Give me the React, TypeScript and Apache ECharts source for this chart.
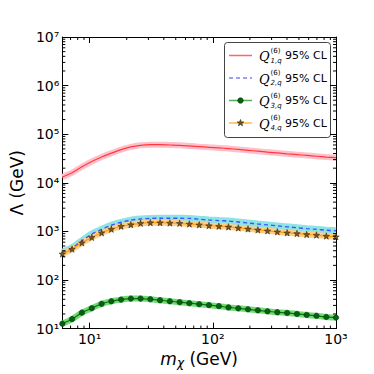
import React, { useEffect, useRef } from "react";
import * as echarts from "echarts";

// ---- data ----
const massGeV = [6, 7.2, 8.65, 10.4, 12.5, 15, 18, 21.6, 25.9, 31.1, 37.3, 44.8, 53.8, 64.5, 77.5, 93, 112, 134, 161, 193, 232, 278, 334, 401, 482, 578, 694, 834, 1000];
const lambdaQ1 = [13200, 16100, 21300, 27400, 33900, 40800, 48300, 54700, 59000, 61000, 61000, 60000, 59000, 57300, 55500, 53800, 52200, 50600, 48600, 46600, 44700, 42800, 41100, 39500, 38000, 36600, 35200, 33900, 32900];
const lambdaQ2 = [370, 460, 640, 880, 1100, 1340, 1540, 1710, 1800, 1850, 1870, 1870, 1860, 1850, 1780, 1720, 1670, 1630, 1560, 1490, 1420, 1360, 1300, 1240, 1190, 1140, 1100, 1060, 1030];
const lambdaQ3 = [12.6, 15.7, 21.3, 26.3, 32.3, 36.5, 39.5, 41.4, 41.4, 40.2, 38.3, 36.5, 34.9, 33.3, 31.8, 30.4, 29.0, 27.3, 26.1, 24.9, 23.8, 22.7, 21.7, 21.0, 20.0, 19.1, 18.3, 17.4, 16.9];
const lambdaQ4 = [345, 432, 582, 754, 937, 1112, 1278, 1377, 1469, 1514, 1514, 1490, 1469, 1422, 1370, 1315, 1278, 1239, 1181, 1127, 1076, 1027, 981, 937, 907, 866, 841, 803, 778];

const legendIndices = ["1,q", "2,q", "3,q", "4,q"];
const legendSuffix = "95% CL";
const superDigits = ["⁰", "¹", "²", "³", "⁴", "⁵", "⁶", "⁷", "⁸", "⁹"];
const xRange = [6, 1000];
const yRange = [10, 1e7];

const FONT = "DejaVu Sans";
const STAR = "path://M0,-10L2.35,-3.24L9.51,-3.09L3.8,1.24L5.88,8.09L0,4L-5.88,8.09L-3.8,1.24L-9.51,-3.09L-2.35,-3.24Z";

function minorTicks(lo: number, hi: number): number[] {
  const out: number[] = [];
  for (let d = 1; d <= 1e7; d *= 10) {
    for (let k = 2; k <= 9; k++) {
      const v = k * d;
      if (v > lo && v < hi) out.push(v);
    }
  }
  return out;
}

function pow10Label(v: number) {
  const l = Math.log10(v);
  const e = Math.round(l);
  if (Math.abs(l - e) > 1e-6) return "";
  return "10" + superDigits[e];
}

function starPoints(cx: number, cy: number, r: number): number[][] {
  const pts: number[][] = [];
  for (let i = 0; i < 10; i++) {
    const a = -Math.PI / 2 + (i * Math.PI) / 5;
    const rr = i % 2 === 0 ? r : r * 0.4;
    pts.push([cx + rr * Math.cos(a), cy + rr * Math.sin(a)]);
  }
  return pts;
}

export default function App() {
  const ref = useRef<HTMLDivElement>(null);
  useEffect(() => {
    if (!ref.current) return;
    const chart = echarts.init(ref.current, null, { renderer: "svg" });

    const pair = (ys: number[]) => massGeV.map((x, i) => [x, ys[i]]);
    const xMinor = minorTicks(xRange[0], xRange[1]).map((v) => [v, yRange[0]]);
    const yMinor = minorTicks(yRange[0], yRange[1]).map((v) => [xRange[0], v]);

    const band = (name: string, ys: number[], color: string, width: number) => ({
      type: "line",
      name,
      data: pair(ys),
      showSymbol: false,
      symbol: "none",
      smooth: 0.3,
      silent: true,
      lineStyle: { color, width, opacity: 1 },
      z: 1,
    });

    const legendEntries = [
      { kind: "line", color: "rgba(255,0,0,0.6)", dash: null },
      { kind: "line", color: "rgba(40,40,255,0.6)", dash: [4, 3] },
      { kind: "circle", color: "rgba(0,128,0,0.65)", dash: null },
      { kind: "star", color: "rgba(255,165,0,0.75)", dash: null },
    ];
    const legY = [55.5, 78, 100.5, 123];
    const legendChildren: any[] = [
      {
        type: "rect",
        shape: { x: 224.5, y: 42.5, width: 106, height: 95, r: 3 },
        style: { fill: "#fff", stroke: "#444", lineWidth: 1 },
      },
    ];
    legendEntries.forEach((e, i) => {
      const y = legY[i];
      legendChildren.push({
        type: "line",
        shape: { x1: 229, y1: y, x2: 252, y2: y },
        style: { stroke: e.color, lineWidth: 1.5, lineDash: e.dash || undefined },
      });
      if (e.kind === "circle") {
        legendChildren.push({ type: "circle", shape: { cx: 240.5, cy: y, r: 2.8 }, style: { fill: "#0a5f0a", stroke: "#033", lineWidth: 0.5 } });
      }
      if (e.kind === "star") {
        legendChildren.push({ type: "polygon", shape: { points: starPoints(240.5, y, 3.6) }, style: { fill: "#7a5410", stroke: "#222", lineWidth: 0.5 } });
      }
      legendChildren.push({
        type: "text",
        x: 259,
        y: y + 1,
        style: { text: "Q", fontSize: 13, fontStyle: "italic", fontFamily: "DejaVu Serif", fill: "#000", align: "left", verticalAlign: "middle" },
      });
      legendChildren.push({
        type: "text",
        x: 270.5,
        y: y - 5,
        style: { text: "(6)", fontSize: 7, fontFamily: FONT, fill: "#000", align: "left", verticalAlign: "middle" },
      });
      legendChildren.push({
        type: "text",
        x: 270.5,
        y: y + 5,
        style: { text: legendIndices[i], fontSize: 7, fontStyle: "italic", fontFamily: FONT, fill: "#000", align: "left", verticalAlign: "middle" },
      });
      legendChildren.push({
        type: "text",
        x: 285,
        y: y,
        style: { text: legendSuffix, fontSize: 11, fontFamily: FONT, fill: "#000", align: "left", verticalAlign: "middle" },
      });
    });

    const commonX = {
      type: "log",
      logBase: 10,
      min: xRange[0],
      max: xRange[1],
      splitNumber: 2,
      axisLine: { show: true, onZero: false, lineStyle: { color: "#000", width: 1 } },
      axisTick: { show: true, inside: true, length: 6, lineStyle: { color: "#000" } },
      splitLine: { show: false },
      minorTick: { show: false },
    };
    const commonY = {
      type: "log",
      logBase: 10,
      min: yRange[0],
      max: yRange[1],
      splitNumber: 6,
      axisLine: { show: true, onZero: false, lineStyle: { color: "#000", width: 1 } },
      axisTick: { show: true, inside: true, length: 6, lineStyle: { color: "#000" } },
      splitLine: { show: false },
      minorTick: { show: false },
    };
    const labelStyle = { fontSize: 14, fontFamily: FONT, color: "#000" };

    chart.setOption({
      animation: false,
      backgroundColor: "#fff",
      grid: { left: 47, top: 37, right: 38, bottom: 39, containLabel: false },
      xAxis: [
        {
          ...commonX,
          position: "bottom",
          name: "{i|m}{sub|χ}{n| (GeV)}",
          nameLocation: "middle",
          nameGap: 16,
          nameTextStyle: {
            rich: {
              i: { fontSize: 17, fontFamily: FONT, fontStyle: "italic", color: "#000" },
              sub: { fontSize: 12, fontFamily: FONT, fontStyle: "italic", color: "#000", padding: [8, 0, 0, 0] },
              n: { fontSize: 17, fontFamily: FONT, color: "#000" },
            },
          },
          axisLabel: { show: true, margin: 3, formatter: pow10Label, showMinLabel: false, ...labelStyle },
        },
        { ...commonX, position: "top", axisLabel: { show: false } },
      ],
      yAxis: [
        {
          ...commonY,
          position: "left",
          name: "Λ (GeV)",
          nameLocation: "middle",
          nameGap: 28,
          nameTextStyle: { fontSize: 17, fontFamily: FONT, color: "#000" },
          axisLabel: { show: true, margin: 3, formatter: pow10Label, ...labelStyle },
        },
        { ...commonY, position: "right", axisLabel: { show: false } },
      ],
      graphic: [{ type: "group", children: legendChildren, z: 100 }],
      series: [
        band("Q1 band", lambdaQ1, "#ffc0cb", 6),
        {
          type: "line", name: "Q1", data: pair(lambdaQ1), showSymbol: false, symbol: "none", smooth: 0.3, z: 3,
          lineStyle: { color: "rgba(255,0,0,0.7)", width: 1.2 },
        },
        band("Q2 band", lambdaQ2, "#8ee3e6", 7),
        {
          type: "line", name: "Q2", data: pair(lambdaQ2), showSymbol: false, symbol: "none", smooth: 0.3, z: 3,
          lineStyle: { color: "rgba(30,40,255,0.75)", width: 1.4, type: [4, 3] },
        },
        band("Q4 band", lambdaQ4, "#ffcd85", 6),
        {
          type: "line", name: "Q4", data: pair(lambdaQ4), smooth: 0.3, z: 4,
          symbol: STAR, symbolSize: 6.5, showSymbol: true,
          itemStyle: { color: "#7a5410", borderColor: "#222", borderWidth: 0.5 },
          lineStyle: { color: "rgba(255,150,0,0.85)", width: 1.2 },
        },
        band("Q3 band", lambdaQ3, "#6fdc6f", 6),
        {
          type: "line", name: "Q3", data: pair(lambdaQ3), smooth: 0.3, z: 4,
          symbol: "circle", symbolSize: 5.5, showSymbol: true,
          itemStyle: { color: "#0a5f0a", borderColor: "#033", borderWidth: 0.5 },
          lineStyle: { color: "rgba(0,90,0,0.85)", width: 1.2 },
        },
        {
          type: "custom",
          name: "xMinor",
          silent: true,
          data: xMinor,
          clip: false,
          z: 10,
          renderItem: (params: any, api: any) => {
            const v = api.value(0);
            const b = api.coord([v, yRange[0]]);
            const t = api.coord([v, yRange[1]]);
            return {
              type: "group",
              children: [
                { type: "line", shape: { x1: b[0], y1: b[1], x2: b[0], y2: b[1] - 3 }, style: { stroke: "#000", lineWidth: 1 } },
                { type: "line", shape: { x1: t[0], y1: t[1], x2: t[0], y2: t[1] + 3 }, style: { stroke: "#000", lineWidth: 1 } },
              ],
            };
          },
        },
        {
          type: "custom",
          name: "yMinor",
          silent: true,
          data: yMinor,
          clip: false,
          z: 10,
          renderItem: (params: any, api: any) => {
            const v = api.value(1);
            const l = api.coord([xRange[0], v]);
            const r = api.coord([xRange[1], v]);
            return {
              type: "group",
              children: [
                { type: "line", shape: { x1: l[0], y1: l[1], x2: l[0] + 3, y2: l[1] }, style: { stroke: "#000", lineWidth: 1 } },
                { type: "line", shape: { x1: r[0], y1: r[1], x2: r[0] - 3, y2: r[1] }, style: { stroke: "#000", lineWidth: 1 } },
              ],
            };
          },
        },
      ],
    });
    return () => chart.dispose();
  }, []);
  return <div ref={ref} style={{ position: "absolute", left: 0, top: 0, width: 374, height: 374 }} />;
}
